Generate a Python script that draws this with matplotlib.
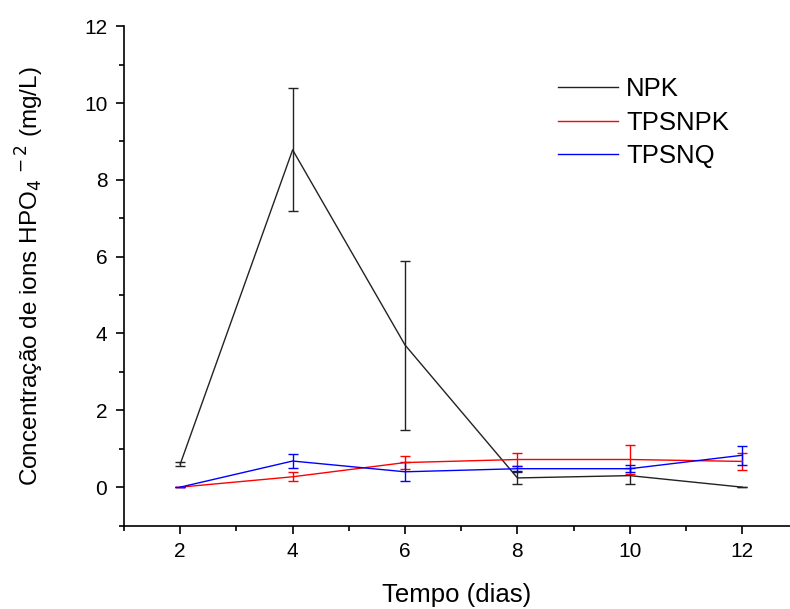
import matplotlib
matplotlib.use("Agg")
import matplotlib.pyplot as plt
from matplotlib.ticker import MultipleLocator

plt.rcParams['font.family'] = ['Liberation Sans', 'DejaVu Sans']

days = [2, 4, 6, 8, 10, 12]
npk = [0.60, 8.78, 3.70, 0.24, 0.30, 0.0]
npk_err = [0.06, 1.60, 2.20, 0.16, 0.21, 0.0]
tpsnpk = [0.0, 0.27, 0.64, 0.72, 0.72, 0.67]
tpsnpk_err = [0.0, 0.12, 0.17, 0.17, 0.38, 0.22]
tpsnq = [0.0, 0.68, 0.40, 0.48, 0.48, 0.83]
tpsnq_err = [0.0, 0.18, 0.25, 0.07, 0.09, 0.25]

fig = plt.figure(figsize=(7.9, 6.09), dpi=100)
ax = fig.add_axes([0.157, 0.137, 0.843, 0.82])

kw = dict(lw=1.0, elinewidth=1.0, capsize=3.7, capthick=1.0)
ax.errorbar(days, npk, yerr=npk_err, color='#222222', label='NPK', **kw)
ax.errorbar(days, tpsnpk, yerr=tpsnpk_err, color='#ff0000', label='TPSNPK', **kw)
ax.errorbar(days, tpsnq, yerr=tpsnq_err, color='#0000ff', label='TPSNQ', **kw)

ax.set_xlim(1, 12.85)
ax.set_ylim(-1, 12)
ax.xaxis.set_major_locator(MultipleLocator(2))
ax.xaxis.set_minor_locator(MultipleLocator(1))
ax.yaxis.set_major_locator(MultipleLocator(2))
ax.yaxis.set_minor_locator(MultipleLocator(1))
ax.spines['top'].set_visible(False)
ax.spines['right'].set_visible(False)
for s in ['left', 'bottom']:
    ax.spines[s].set_linewidth(1.2)
ax.tick_params(which='major', direction='out', length=6, width=1.2, labelsize=15, pad=6)
ax.tick_params(which='minor', direction='out', length=3.5, width=1.2)

ax.set_xlabel('Tempo (dias)', fontsize=18.5, labelpad=16)
ax.set_ylabel('Concentração de ions HPO$_4$$^{\\,-2}$ (mg/L)', fontsize=17.5, labelpad=27)

h, l = ax.get_legend_handles_labels()
h = [hh[0] for hh in h]
leg = ax.legend(h, l, loc='upper left', bbox_to_anchor=(0.617, 0.945), frameon=False,
                fontsize=18.5, handlelength=2.35, handletextpad=0.3, labelspacing=0.38)

fig.savefig('out.png', dpi=100)
